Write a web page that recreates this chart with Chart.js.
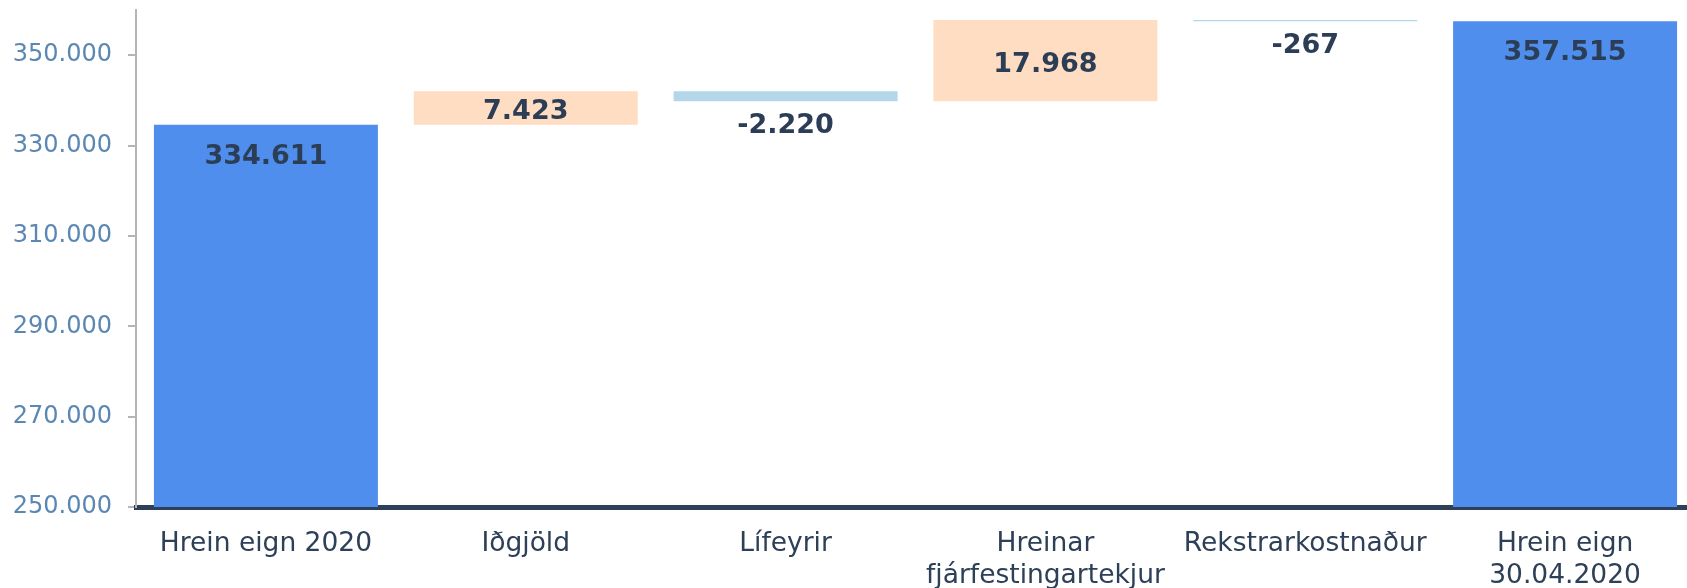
<!DOCTYPE html>
<html>
<head>
<meta charset="utf-8">
<script src="https://cdn.jsdelivr.net/npm/chart.js@4/dist/chart.umd.min.js"></script>
<style>
  html, body { margin: 0; padding: 0; background: #ffffff; overflow: hidden; }
  #wrap { width: 1695px; height: 588px; position: relative; }
</style>
</head>
<body>
<div id="wrap"><canvas id="c"></canvas></div>
<script>
// ---- data ----
const categories = [
  'Hrein eign 2020',
  'Iðgjöld',
  'Lífeyrir',
  ['Hreinar', 'fjárfestingartekjur'],
  'Rekstrarkostnaður',
  ['Hrein eign', '30.04.2020']
];
const totals = [334611, null, null, null, null, 357515];
const changes = [null, 7423, -2220, 17968, -267, null];
const yTicks = [250000, 270000, 290000, 310000, 330000, 350000];
const yMin = 250000;
const yMax = 360000;

// ---- build floating segments from running sum ----
let running = totals[0];
const floating = changes.map(d => {
  if (d === null) return null;
  const seg = [running, running + d];
  running += d;
  return seg;
});

const fmt = v => {
  const neg = v < 0;
  const s = Math.abs(Math.round(v)).toString().replace(/\B(?=(\d{3})+(?!\d))/g, '.');
  return (neg ? '-' : '') + s;
};

const FONT = 'DejaVu Sans';
const labelColor = '#2C3E55';

const labelPlugin = {
  id: 'wfLabels',
  afterDatasetsDraw(chart) {
    const ctx = chart.ctx;
    ctx.save();
    ctx.font = 'bold 27px "' + FONT + '"';
    ctx.fillStyle = labelColor;
    ctx.textAlign = 'center';
    ctx.textBaseline = 'middle';
    chart.data.datasets.forEach((ds, di) => {
      const meta = chart.getDatasetMeta(di);
      meta.data.forEach((el, i) => {
        const raw = ds.data[i];
        if (raw === null || raw === undefined) return;
        let y, text;
        if (di === 0) {
          text = fmt(raw);
          y = el.y + 32;
        } else {
          const d = changes[i];
          text = fmt(d);
          if (d >= 0) {
            y = (el.y + el.base) / 2 + 4;
          } else {
            y = Math.max(el.y, el.base) + 25;
          }
        }
        ctx.fillText(text, el.x, y);
      });
    });
    ctx.restore();
  }
};

new Chart(document.getElementById('c'), {
  type: 'bar',
  data: {
    labels: categories,
    datasets: [
      {
        data: totals,
        backgroundColor: '#508EEE',
        grouped: false,
        barPercentage: 0.862,
        categoryPercentage: 1.0,
        borderWidth: 0
      },
      {
        data: floating,
        backgroundColor: changes.map(d => d === null ? 'rgba(0,0,0,0)' : (d >= 0 ? '#FFDDC2' : '#B3D7E8')),
        grouped: false,
        barPercentage: 0.862,
        categoryPercentage: 1.0,
        borderWidth: 0
      }
    ]
  },
  options: {
    responsive: true,
    maintainAspectRatio: false,
    animation: false,
    events: [],
    layout: { padding: { top: 10, right: 0, bottom: 0, left: 0 } },
    plugins: {
      legend: { display: false },
      tooltip: { enabled: false }
    },
    scales: {
      x: {
        z: 1,
        grid: { display: false, drawTicks: false },
        border: { display: true, color: '#2D4057', width: 5 },
        ticks: {
          color: '#2D4057',
          font: { family: FONT, size: 26.5, lineHeight: 1.2 },
          padding: 21,
          maxRotation: 0,
          minRotation: 0,
          autoSkip: false
        },
        afterFit: s => { s.height = 81; s.paddingLeft = 0; s.paddingRight = 0; }
      },
      y: {
        min: yMin,
        max: yMax,
        afterBuildTicks: s => { s.ticks = yTicks.map(v => ({ value: v })); },
        grid: { drawOnChartArea: false, drawTicks: true, tickLength: 8, color: '#B5B5B5', lineWidth: 2 },
        border: { display: true, color: '#B5B5B5', width: 2 },
        ticks: {
          color: '#5B87B3',
          font: { family: FONT, size: 24 },
          padding: 16,
          callback: v => fmt(v)
        },
        afterFit: s => { s.width = 136; s.paddingTop = 0; s.paddingBottom = 0; }
      }
    }
  },
  plugins: [labelPlugin]
});
</script>
</body>
</html>
